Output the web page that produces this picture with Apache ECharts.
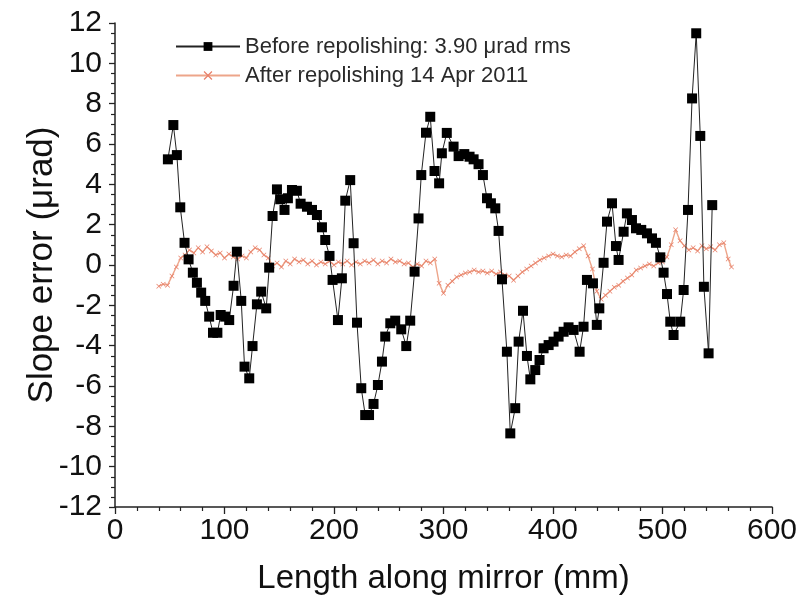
<!DOCTYPE html>
<html>
<head>
<meta charset="utf-8">
<script src="https://cdn.jsdelivr.net/npm/echarts@6/dist/echarts.min.js"></script>
<style>html,body{margin:0;padding:0;background:#fff;}#c{width:796px;height:596px;}</style>
</head>
<body>
<div id="c"></div>
<script>
// Before repolishing (x in mm, slope error in µrad)
var beforeX = [48.3,53.3,56.5,59.6,63.5,67.2,71.1,74.8,78.7,82.4,86.0,89.5,93.5,96.5,100.6,104.3,108.3,111.3,115.3,118.3,122.6,125.6,129.6,133.5,138.1,140.8,143.9,147.9,150.9,154.8,157.9,161.6,166.1,169.5,175.3,179.9,184.4,189.0,192.0,195.9,198.7,203.6,207.2,210.3,214.8,217.9,221.0,224.9,228.5,232.0,236.1,240.1,243.8,246.8,251.4,255.9,261.4,266.0,269.6,273.6,277.2,279.7,284.0,287.9,291.8,296.0,298.5,303.0,309.2,313.8,319.0,323.8,327.5,332.0,336.0,339.7,343.3,347.3,350.3,353.4,357.9,361.0,365.5,368.6,372.6,376.2,379.3,383.8,387.7,391.4,396.0,400.5,405.1,409.7,414.2,418.8,424.3,427.9,431.0,436.5,440.0,442.3,446.2,449.3,453.9,457.5,459.9,464.5,467.5,472.1,475.8,480.6,485.8,490.4,494.0,498.0,501.0,504.1,507.1,510.1,516.2,519.3,523.3,527.0,530.8,534.5,537.8,542.1,545.4];
var beforeY = [5.24,6.94,5.45,2.86,1.10,0.28,-0.38,-0.88,-1.37,-1.78,-2.56,-3.36,-3.36,-2.48,-2.56,-2.73,-1.03,0.66,-1.78,-5.04,-5.62,-4.02,-1.95,-1.32,-2.15,-0.13,2.43,3.75,3.26,2.73,3.31,3.72,3.68,3.04,2.89,2.73,2.48,1.87,1.24,0.45,-0.74,-2.73,-0.66,3.19,4.21,1.08,-2.86,-6.11,-7.44,-7.44,-6.89,-5.95,-4.79,-3.55,-2.89,-2.76,-3.19,-4.02,-2.76,-0.33,2.31,4.46,6.56,7.35,4.66,4.05,5.54,6.55,5.87,5.40,5.50,5.37,5.24,5.00,4.46,3.31,3.06,2.81,1.69,-0.71,-4.30,-8.35,-7.10,-3.80,-2.27,-4.51,-5.67,-5.21,-4.71,-4.13,-3.97,-3.80,-3.55,-3.31,-3.09,-3.22,-4.30,-3.06,-0.74,-0.91,-2.97,-2.15,0.11,2.15,3.06,0.94,0.25,1.65,2.56,2.23,1.82,1.74,1.57,1.32,1.10,0.38,-0.38,-1.44,-2.81,-3.47,-2.81,-1.24,2.73,8.26,11.49,6.40,-1.08,-4.38,2.97];

// After repolishing 14 Apr 2011
var afterX = [40,44,48,52,56,60,64,68,72,76,80,84,88,92,96,100,104,108,112,116,120,124,128,132,136,140,144,148,152,156,160,164,168,172,176,180,184,188,192,196,200,204,208,212,216,220,224,228,232,236,240,244,248,252,256,260,264,268,272,276,280,284,288,292,296,300,304,308,312,316,320,324,328,332,336,340,344,348,352,356,360,364,368,372,376,380,384,388,392,396,400,404,408,412,416,420,424,428,432,436,440,444,448,452,456,460,464,468,472,476,480,484,488,492,496,500,504,508,512,516,520,524,528,532,536,540,544,548,552,556,560,563];
var afterY = [-1.05,-0.95,-1.0,-0.55,-0.1,0.35,0.5,0.75,0.6,0.85,0.65,0.9,0.7,0.5,0.6,0.35,0.55,0.4,0.3,0.45,0.35,0.65,0.85,0.75,0.5,0.35,-0.05,0.1,-0.1,0.2,0.05,0.3,0.15,0.25,0.05,0.2,0.0,0.15,0.05,0.2,0.0,0.15,0.05,0.2,0.0,0.15,0.05,0.2,0.1,0.25,0.05,0.2,0.1,0.3,0.15,0.2,0.05,0.1,-0.1,0.05,-0.05,0.2,0.1,0.3,-0.9,-1.4,-1.0,-0.8,-0.6,-0.5,-0.4,-0.35,-0.25,-0.35,-0.3,-0.4,-0.3,-0.45,-0.35,-0.5,-0.55,-0.75,-0.55,-0.35,-0.2,-0.05,0.1,0.25,0.35,0.45,0.55,0.45,0.4,0.5,0.45,0.65,0.8,0.95,0.45,-0.2,-1.3,-1.7,-1.5,-1.3,-1.1,-1.0,-0.8,-0.65,-0.5,-0.25,-0.15,-0.05,0.05,-0.05,0.1,0.15,0.4,1.0,1.75,1.2,0.95,0.75,0.85,0.7,0.95,0.8,0.9,0.75,1.0,1.1,0.3,-0.1];

var yTicks = [-12,-10,-8,-6,-4,-2,0,2,4,6,8,10,12];
var xTicks = [0,100,200,300,400,500,600];

function pairs(xs, ys){ return xs.map(function(x,i){ return [x, ys[i]]; }); }

var chart = echarts.init(document.getElementById('c'), null, {renderer:'canvas'});
var FONT = 'Liberation Sans, Arial, sans-serif';
var crossPath = 'path://M0,1L1,0L5,4L9,0L10,1L6,5L10,9L9,10L5,6L1,10L0,9L4,5Z';

chart.setOption({
  animation: false,
  backgroundColor: '#fff',
  grid: {left: 115, right: 24, top: 23, bottom: 89, containLabel: false, outerBoundsMode: 'none'},
  legend: {
    orient: 'vertical',
    left: 170, top: 30,
    itemWidth: 64, itemHeight: 11,
    itemGap: 6,
    textStyle: {fontFamily: FONT, fontSize: 22, lineHeight: 23, color: '#2a2a2a'},
    data: ['Before repolishing: 3.90 μrad rms', 'After repolishing 14 Apr 2011']
  },
  xAxis: {
    type: 'value', min: 0, max: 600, interval: 100,
    name: 'Length along mirror (mm)', nameLocation: 'middle', nameGap: 55,
    nameMoveOverlap: false,
    nameTextStyle: {fontFamily: FONT, fontSize: 33, color: '#111'},
    axisLine: {show: true, onZero: false, lineStyle: {color: '#222', width: 1.5}},
    axisTick: {show: true, inside: false, length: 7, lineStyle: {color: '#222', width: 1.3}},
    minorTick: {show: true, splitNumber: 5, length: 4, lineStyle: {color: '#222', width: 1.2}},
    axisLabel: {fontFamily: FONT, fontSize: 30, color: '#111', margin: 9,
      formatter: function(v){ return xTicks.indexOf(v) >= 0 ? String(v) : ''; }},
    splitLine: {show: false}
  },
  yAxis: {
    type: 'value', min: -12, max: 12, interval: 2,
    name: 'Slope error (μrad)', nameLocation: 'middle', nameGap: 55, nameRotate: 90,
    nameMoveOverlap: false,
    nameTextStyle: {fontFamily: FONT, fontSize: 35, color: '#111'},
    axisLine: {show: true, onZero: false, lineStyle: {color: '#222', width: 1.5}},
    axisTick: {show: true, inside: false, length: 6, lineStyle: {color: '#222', width: 1.3}},
    minorTick: {show: true, splitNumber: 4, length: 4, lineStyle: {color: '#222', width: 1.2}},
    axisLabel: {fontFamily: FONT, fontSize: 30, color: '#111', margin: 13,
      formatter: function(v){ return yTicks.indexOf(v) >= 0 ? String(v) : ''; }},
    splitLine: {show: false}
  },
  series: [
    {
      name: 'After repolishing 14 Apr 2011',
      type: 'line',
      data: pairs(afterX, afterY),
      symbol: crossPath,
      symbolSize: 5,
      showAllSymbol: true,
      itemStyle: {color: '#e8806a'},
      lineStyle: {color: '#eda58a', width: 1.4},
      z: 2
    },
    {
      name: 'Before repolishing: 3.90 μrad rms',
      type: 'line',
      data: pairs(beforeX, beforeY),
      symbol: 'rect',
      symbolSize: 10,
      showAllSymbol: true,
      itemStyle: {color: '#000'},
      lineStyle: {color: '#222', width: 1},
      z: 3
    }
  ]
});
</script>
</body>
</html>
